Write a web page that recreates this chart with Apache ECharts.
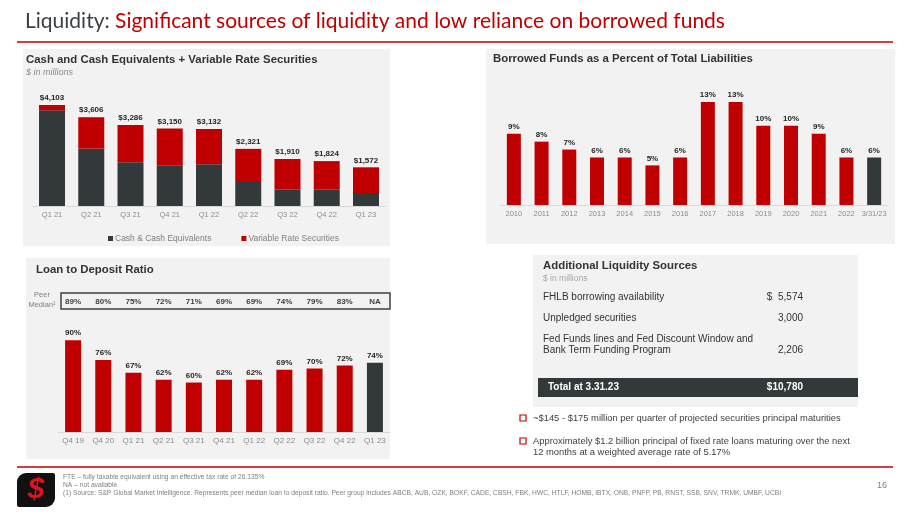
<!DOCTYPE html>
<html><head><meta charset="utf-8">
<script src="https://cdn.jsdelivr.net/npm/echarts/dist/echarts.min.js"></script>
<style>html,body{margin:0;padding:0;background:#fff}#c{width:911px;height:512px}</style>
</head><body><div id="c"></div><script>
// ---- Data ----
const cashQuarters = ['Q1 21','Q2 21','Q3 21','Q4 21','Q1 22','Q2 22','Q3 22','Q4 22','Q1 23'];
const cashTotals = [4103,3606,3286,3150,3132,2321,1910,1824,1572];
const cashEquivalents = [3886,2329,1774,1652,1693,975,677,677,528];
const variableRate = [217,1277,1512,1498,1439,1346,1233,1147,1044];

const borrowYears = ['2010','2011','2012','2013','2014','2015','2016','2017','2018','2019','2020','2021','2022','3/31/23'];
const borrowPct = [9,8,7,6,6,5,6,13,13,10,10,9,6,6];

const ldrQuarters = ['Q4 19','Q4 20','Q1 21','Q2 21','Q3 21','Q4 21','Q1 22','Q2 22','Q3 22','Q4 22','Q1 23'];
const ldrPct = [90,76,67,62,60,62,62,69,70,72,74];
const peerMedian = ['89%','80%','75%','72%','71%','69%','69%','74%','79%','83%','NA'];

const liqLabels = ['FHLB borrowing availability','Unpledged securities','Fed Funds lines and Fed Discount Window and\nBank Term Funding Program'];
const liqValues = ['$  5,574','3,000','2,206'];
const liqTotalLabel = 'Total at 3.31.23';
const liqTotalValue = '$10,780';
const bullets = [
  '~$145 - $175 million per quarter of projected securities principal maturities',
  'Approximately $1.2 billion principal of fixed rate loans maturing over the next\n12 months at a weighted average rate of 5.17%'
];
const footnotes = [
  'FTE – fully taxable equivalent using an effective tax rate of 26.135%',
  'NA – not available',
  '(1) Source: S&P Global Market Intelligence. Represents peer median loan to deposit ratio. Peer group includes ABCB, AUB, OZK, BOKF, CADE, CBSH, FBK, HWC, HTLF, HOMB, IBTX, ONB, PNFP, PB, RNST, SSB, SNV, TRMK, UMBF, UCBI'
];

// ---- Styles ----
const RED = '#C00000', DARK = '#33383B', PANEL = '#F2F2F2', AX = '#8C8C8C', TXT = '#262626';
const F = 'Liberation Sans, Arial, sans-serif';

const chart = echarts.init(document.getElementById('c'), null, {renderer:'canvas'});

const axisCommon = {
  type:'category',
  axisLine:{lineStyle:{color:'#D9D9D9', width:1}},
  axisTick:{show:false},
  axisLabel:{color:AX, fontSize:7.5, fontFamily:F, margin:5, interval:0}
};
const labelCommon = {show:true, position:'top', distance:3, color:TXT, fontSize:8, fontWeight:'bold', fontFamily:F};

const graphics = [
  // panels
  {type:'rect', shape:{x:23,y:49,width:367,height:197}, style:{fill:PANEL}, z:-10},
  {type:'rect', shape:{x:486,y:49,width:409,height:195}, style:{fill:PANEL}, z:-10},
  {type:'rect', shape:{x:26,y:258,width:364,height:201}, style:{fill:PANEL}, z:-10},
  {type:'rect', shape:{x:533,y:255,width:325,height:152}, style:{fill:PANEL}, z:-10},
  // title
  {type:'text', x:25, y:21, style:{text:'{a|Liquidity: }{b|Significant sources of liquidity and low reliance on borrowed funds}', verticalAlign:'middle',
    rich:{a:{fill:'#3A3F44', fontSize:21, fontFamily:'Lato, sans-serif'}, b:{fill:RED, fontSize:21, fontFamily:'Lato, sans-serif'}}}},
  {type:'line', shape:{x1:17,y1:42,x2:893,y2:42}, style:{stroke:RED, lineWidth:1.5}},
  // chart titles
  {type:'text', x:26, y:60, style:{text:'Cash and Cash Equivalents + Variable Rate Securities', fill:'#333', font:'bold 11.4px '+F, verticalAlign:'middle'}},
  {type:'text', x:26, y:72.5, style:{text:'$ in millions', fill:'#8C8C8C', font:'italic 9px '+F, verticalAlign:'middle'}},
  {type:'text', x:493, y:59, style:{text:'Borrowed Funds as a Percent of Total Liabilities', fill:'#333', font:'bold 11.4px '+F, verticalAlign:'middle'}},
  {type:'text', x:36, y:270, style:{text:'Loan to Deposit Ratio', fill:'#333', font:'bold 11.4px '+F, verticalAlign:'middle'}},
  // peer median box
  {type:'text', x:42, y:300, style:{text:'Peer\nMedian¹', fill:'#7F7F7F', font:'7.5px '+F, align:'center', verticalAlign:'middle', lineHeight:10}},
  {type:'rect', shape:{x:61,y:293,width:329,height:16}, style:{fill:'none', stroke:'#404040', lineWidth:1.5}},
  // liquidity table
  {type:'text', x:543, y:266, style:{text:'Additional Liquidity Sources', fill:'#333', font:'bold 11.4px '+F, verticalAlign:'middle'}},
  {type:'text', x:543, y:279, style:{text:'$ in millions', fill:'#A6A6A6', font:'8.5px '+F, verticalAlign:'middle'}},
  {type:'text', x:543, y:297, style:{text:liqLabels[0], fill:'#333', font:'10px '+F, verticalAlign:'middle'}},
  {type:'text', x:803, y:297, style:{text:liqValues[0], fill:'#333', font:'10px '+F, align:'right', verticalAlign:'middle'}},
  {type:'text', x:543, y:318, style:{text:liqLabels[1], fill:'#333', font:'10px '+F, verticalAlign:'middle'}},
  {type:'text', x:803, y:318, style:{text:liqValues[1], fill:'#333', font:'10px '+F, align:'right', verticalAlign:'middle'}},
  {type:'text', x:543, y:344.5, style:{text:liqLabels[2], fill:'#333', font:'10px '+F, verticalAlign:'middle', lineHeight:11.5}},
  {type:'text', x:803, y:350, style:{text:liqValues[2], fill:'#333', font:'10px '+F, align:'right', verticalAlign:'middle'}},
  {type:'rect', shape:{x:538,y:378,width:320,height:19}, style:{fill:DARK}},
  {type:'text', x:548, y:387.5, style:{text:liqTotalLabel, fill:'#fff', font:'bold 10px '+F, verticalAlign:'middle'}},
  {type:'text', x:803, y:387.5, style:{text:liqTotalValue, fill:'#fff', font:'bold 10px '+F, align:'right', verticalAlign:'middle'}},
  // bullets
  {type:'rect', shape:{x:520,y:415,width:6,height:6}, style:{fill:'none', stroke:RED, lineWidth:1.2}},
  {type:'text', x:533, y:418, style:{text:bullets[0], fill:'#404040', font:'9.4px '+F, verticalAlign:'middle'}},
  {type:'rect', shape:{x:520,y:438,width:6,height:6}, style:{fill:'none', stroke:RED, lineWidth:1.2}},
  {type:'text', x:533, y:446.5, style:{text:bullets[1], fill:'#404040', font:'9.4px '+F, verticalAlign:'middle', lineHeight:11}},
  // footer
  {type:'line', shape:{x1:17,y1:467,x2:893,y2:467}, style:{stroke:RED, lineWidth:1.5}},
  {type:'rect', shape:{x:17,y:473,width:38,height:34, r:[9,2,9,2]}, style:{fill:'#111'}},
  {type:'text', x:36, y:490, style:{text:'$', fill:'#E0121B', font:'italic bold 30px '+F, align:'center', verticalAlign:'middle'}},
  {type:'text', x:63, y:477, style:{text:footnotes[0], fill:'#7F7F7F', font:'6.7px '+F, verticalAlign:'middle'}},
  {type:'text', x:63, y:485, style:{text:footnotes[1], fill:'#7F7F7F', font:'6.7px '+F, verticalAlign:'middle'}},
  {type:'text', x:63, y:493, style:{text:footnotes[2], fill:'#7F7F7F', font:'6.7px '+F, verticalAlign:'middle'}},
  {type:'text', x:882, y:486, style:{text:'16', fill:'#7F7F7F', font:'9px '+F, align:'center', verticalAlign:'middle'}}
];

const option = {
  animation:false,
  backgroundColor:'#fff',
  textStyle:{fontFamily:F},
  graphic:{elements:graphics},
  legend:{
    data:['Cash & Cash Equivalents','Variable Rate Securities'],
    left:103, top:229, icon:'rect', itemWidth:5, itemHeight:5, itemGap:30,
    textStyle:{color:'#7F7F7F', fontSize:8.5, fontFamily:F, padding:[0,0,0,-3]}
  },
  grid:[
    {left:32.4, top:58.3, width:353.2, height:147.7},
    {left:500, top:46.6, width:388, height:158.4},
    {left:58, top:326, width:332, height:106}
  ],
  xAxis:[
    Object.assign({}, axisCommon, {gridIndex:0, data:cashQuarters}),
    Object.assign({}, axisCommon, {gridIndex:1, data:borrowYears}),
    Object.assign({}, axisCommon, {gridIndex:2, data:ldrQuarters,
      axisLabel:Object.assign({}, axisCommon.axisLabel, {fontSize:8})}),
    {type:'category', gridIndex:2, position:'top', data:peerMedian,
     axisLine:{show:false}, axisTick:{show:false},
     axisLabel:{color:'#404040', fontSize:8, fontWeight:'bold', fontFamily:F, margin:20.5, interval:0}}
  ],
  yAxis:[
    {type:'value', gridIndex:0, min:0, max:6000, show:false},
    {type:'value', gridIndex:1, min:0, max:20, show:false},
    {type:'value', gridIndex:2, min:25, max:100, show:false}
  ],
  series:[
    {name:'Cash & Cash Equivalents', type:'bar', stack:'cash', xAxisIndex:0, yAxisIndex:0, barWidth:26,
     itemStyle:{color:DARK}, data:cashEquivalents},
    {name:'Variable Rate Securities', type:'bar', stack:'cash', xAxisIndex:0, yAxisIndex:0, barWidth:26,
     itemStyle:{color:RED}, data:variableRate,
     label:Object.assign({}, labelCommon, {formatter:p => '$' + cashTotals[p.dataIndex].toLocaleString('en-US')})},
    {name:'Borrowed', type:'bar', xAxisIndex:1, yAxisIndex:1, barWidth:14,
     itemStyle:{color:p => p.dataIndex === borrowPct.length-1 ? DARK : RED}, data:borrowPct,
     label:Object.assign({}, labelCommon, {formatter:'{c}%'})},
    {name:'LDR', type:'bar', xAxisIndex:2, yAxisIndex:2, barWidth:16,
     itemStyle:{color:p => p.dataIndex === ldrPct.length-1 ? DARK : RED}, data:ldrPct,
     label:Object.assign({}, labelCommon, {formatter:'{c}%'})}
  ]
};
chart.setOption(option);
</script></body></html>
